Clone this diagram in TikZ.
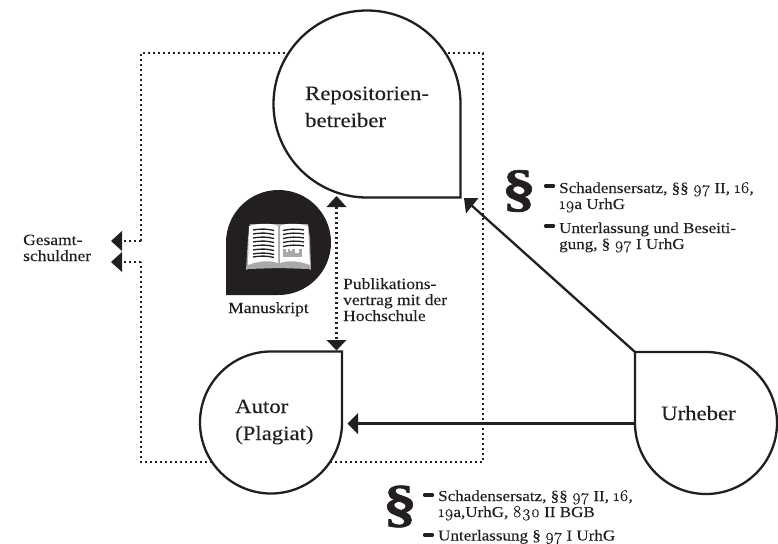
\documentclass[tikz,border=0pt]{standalone}
\usepackage{fontspec}
\setmainfont{Liberation Serif}[FakeStretch=1.12,FakeBold=0.12]
\newfontfamily\onumfont{Latin Modern Roman}[Numbers=OldStyle,FakeStretch=1.05,Scale=1.08,FakeBold=0.35]
\newfontfamily\parafont{Liberation Serif Bold}[FakeStretch=1.32,FakeBold=1.2]
\newcommand{\os}[1]{{\onumfont #1}}
\definecolor{ink}{HTML}{231F20}
\definecolor{pagegrey}{HTML}{A7A9AC}
\tikzset{
  x=1pt,y=-1pt,
  drop/.style={draw=ink,line width=2.3pt,fill=white,line join=miter},
  dots/.style={draw=ink,line width=2.4pt,dash pattern=on 2.4pt off 2.6pt},
  solidline/.style={draw=ink,line width=2.3pt},
  head/.style={fill=ink,draw=none},
  big/.style={inner sep=0pt,anchor=base west,align=left,text=ink,font=\fontsize{20.3}{27}\selectfont},
  small/.style={inner sep=0pt,anchor=base west,align=left,text=ink,font=\fontsize{15.6}{16}\selectfont},
  legal/.style={inner sep=0pt,anchor=base west,align=left,text=ink,font=\fontsize{15.2}{16}\selectfont},
  para/.style={inner sep=0pt,text=ink,font=\fontsize{52}{52}\parafont},
  dashmark/.style={draw=ink,line width=3.2pt,line cap=round},
}
\begin{document}
\begin{tikzpicture}
\useasboundingbox (0,0) rectangle (778,543);
% named points
\coordinate (rectTL) at (141,53);
\coordinate (rectTR) at (483,53);
\coordinate (rectBR) at (483,462);
\coordinate (rectBL) at (141,462);
\coordinate (stubA) at (141,241);
\coordinate (stubB) at (141,262);
\coordinate (tipA) at (122,241);
\coordinate (tipB) at (122,262);
\coordinate (repCorner) at (460.5,197.5);
\coordinate (autCorner) at (342,351.5);
\coordinate (urhCorner) at (635,352);
\coordinate (urhLeft) at (635,423.5);
\coordinate (autArrow) at (357,423.5);
\coordinate (repArrow) at (470,204);
\coordinate (vertTop) at (336.5,207);
\coordinate (vertBot) at (336.5,340);
% dotted frame
\draw[dots] (stubA) -- (rectTL) -- (rectTR) -- (rectBR) -- (rectBL) -- (stubB);
\draw[dots] (stubA) -- (tipA);
\draw[dots] (stubB) -- (tipB);
\fill[head] (111,241) -- (122,231) -- (122,251) -- cycle;
\fill[head] (111,262) -- (122,252) -- (122,272) -- cycle;
% teardrops
\draw[drop] (repCorner) -- (460.5,104) arc[start angle=0,end angle=270,radius=93.5pt] -- cycle;
\draw[drop] (autCorner) -- (271,351.5) arc[start angle=90,end angle=360,radius=71pt] -- cycle;
\draw[drop] (urhCorner) -- (635,423) arc[start angle=180,end angle=450,radius=71pt] -- cycle;
% vertical dotted connector
\draw[dots] (vertTop) -- (vertBot);
\fill[head] (336.5,196) -- (326.5,207) -- (346.5,207) -- cycle;
\fill[head] (336.5,350.5) -- (326.5,340) -- (346.5,340) -- cycle;
% solid arrows
\draw[solidline] (urhLeft) -- (autArrow);
\fill[head] (347.5,423.5) -- (358,413) -- (358,434) -- cycle;
\draw[solidline] (urhCorner) -- (repArrow);
\fill[head] (464,198) -- (466,213.5) -- (478.5,198) -- cycle;
% book icon
\fill[ink] (226,295) -- (226,242.5) arc[start angle=180,end angle=-90,radius=52.5pt] -- cycle;
\fill[pagegrey] (279,268) -- (248,269) -- (246,270) -- (248,238) -- (250,224) -- (279,224) -- (308,224) -- (310,238) -- (311,270) -- (309,269) -- cycle;
\fill[white] (278,263) .. controls (270,260) and (258,261) .. (248,265) -- (249,226) .. controls (260,223) and (272,223) .. (278,226) -- cycle;
\fill[white] (280,263) .. controls (288,260) and (300,261) .. (310,265) -- (308,226) .. controls (298,223) and (286,223) .. (280,226) -- cycle;
\foreach \yy in {230,234,238,242,246,250,254,257}{
  \draw[ink,line width=1.3pt] (253,\yy) .. controls (262,\yy-1.5) and (268,\yy-1) .. (274,\yy+0.5);
}
\foreach \yy in {230,234,238,242,246}{
  \draw[ink,line width=1.3pt] (283,\yy+0.5) .. controls (290,\yy-1) and (296,\yy-1.5) .. (304,\yy);
}
\fill[pagegrey] (283,249) rectangle (302,257);
\fill[white] (286,249) rectangle (288,252);
\fill[white] (290,249) rectangle (291.5,251);
\fill[white] (295,249) rectangle (299,253);
% labels
\node[big] (repText) at (305,127) {Repositorien-\\betreiber};
\node[big] (autText) at (235,440) {Autor\\(Plagiat)};
\node[big] (urhText) at (661,420) {Urheber};
\node[small] (gesText) at (23,261) {Gesamt-\\schuldner};
\node[small] (manText) at (228,313) {Manuskript};
\node[small] (pubText) at (343,321) {Publikations-\\vertrag mit der\\Hochschule};
% top legal text
\node[para] (paraTop) at (519,191) {§};
\draw[dashmark] (545.5,186) -- (553.5,186);
\node[legal] (topA) at (559,209) {Schadensersatz, §§ \os{97} II, \os{16},\\\os{19}a UrhG};
\draw[dashmark] (545.5,226) -- (553.5,226);
\node[legal] (topB) at (559,249) {Unterlassung und Beseiti-\\gung, § \os{97} I UrhG};
% bottom legal text
\node[para] (paraBot) at (400,506.5) {§};
\draw[dashmark] (424.5,495) -- (432.5,495);
\node[legal] (botA) at (438,517) {Schadensersatz, §§ \os{97} II, \os{16},\\\os{19}a,UrhG, \os{830} II BGB};
\draw[dashmark] (424.5,535) -- (432.5,535);
\node[legal] (botB) at (438,540.5) {Unterlassung § \os{97} I UrhG};
\end{tikzpicture}
\end{document}
